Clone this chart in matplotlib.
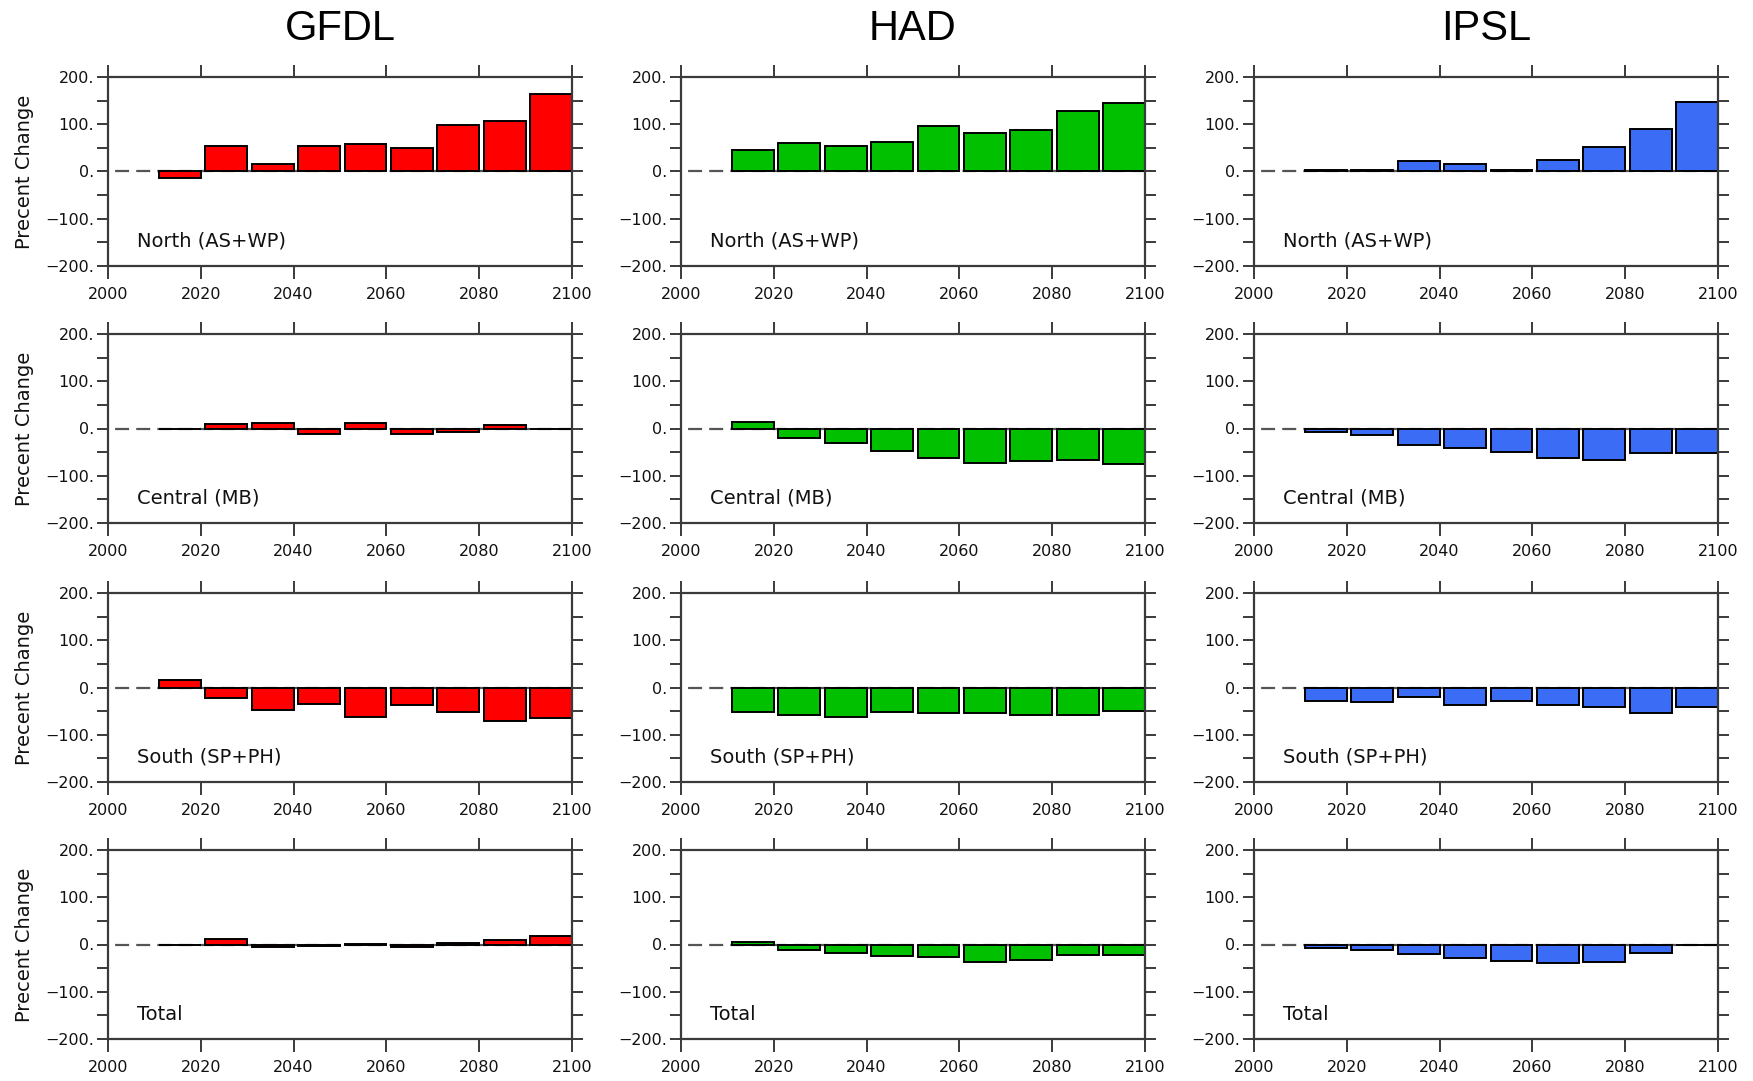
import numpy as np
import matplotlib
matplotlib.use("Agg")
import matplotlib.pyplot as plt
from matplotlib.ticker import MultipleLocator, FixedLocator

# ---------------- data ----------------
models = ["GFDL", "HAD", "IPSL"]
regions = ["North (AS+WP)", "Central (MB)", "South (SP+PH)", "Total"]
decades = [2010, 2020, 2030, 2040, 2050, 2060, 2070, 2080, 2090]

gfdl_north   = [-13, 53, 16, 53, 58, 49, 98, 107, 165]
gfdl_central = [-2, 9, 11, -11, 12, -11, -7, 8, -1]
gfdl_south   = [16, -22, -47, -34, -63, -38, -52, -70, -65]
gfdl_total   = [-1, 11, -5, -4, 1, -5, 4, 10, 19]

had_north    = [46, 61, 53, 62, 96, 81, 88, 128, 144]
had_central  = [13, -20, -30, -47, -62, -74, -68, -66, -76]
had_south    = [-52, -58, -62, -51, -55, -53, -58, -59, -49]
had_total    = [6, -11, -19, -25, -27, -36, -33, -23, -23]

ipsl_north   = [3, 3, 22, 15, 4, 25, 51, 90, 147]
ipsl_central = [-8, -13, -34, -41, -50, -63, -66, -51, -51]
ipsl_south   = [-29, -31, -20, -37, -29, -37, -41, -53, -42]
ipsl_total   = [-8, -11, -20, -28, -34, -39, -36, -17, -2]

model_data = {
    "GFDL": [gfdl_north, gfdl_central, gfdl_south, gfdl_total],
    "HAD":  [had_north, had_central, had_south, had_total],
    "IPSL": [ipsl_north, ipsl_central, ipsl_south, ipsl_total],
}
model_colors = {"GFDL": "#ff0000", "HAD": "#00c000", "IPSL": "#3a6cf5"}

ytick_vals = [-200, -100, 0, 100, 200]
ytick_labels = ["\u2212200.", "\u2212100.", "0.", "100.", "200."]
xtick_vals = [2000, 2020, 2040, 2060, 2080, 2100]

# ---------------- layout ----------------
W, H = 1753, 1081
fig = plt.figure(figsize=(W / 100, H / 100), dpi=100)
plt.rcParams["font.family"] = ["DejaVu Sans"]

col_left = [108, 681, 1254]
col_w = 464
row_top = [77, 334, 593, 850]
row_h = 189

frame_col = "#3a3a3a"

for ci, m in enumerate(models):
    for ri, reg in enumerate(regions):
        l = col_left[ci] / W
        b = 1 - (row_top[ri] + row_h) / H
        ax = fig.add_axes([l, b, col_w / W, row_h / H])
        vals = np.array(model_data[m][ri], dtype=float)
        x = np.array(decades) + 5.5
        ax.plot([2000, 2100], [0, 0], color="#555555", lw=1.6,
                linestyle=(6.3, (6.3, 3.2)), zorder=1)
        ax.bar(x, vals, width=9, color=model_colors[m], edgecolor="black",
               linewidth=1.4, zorder=2)
        ax.set_xlim(2000, 2100)
        ax.set_ylim(-200, 200)
        ax.yaxis.set_major_locator(FixedLocator(ytick_vals))
        ax.set_yticklabels(ytick_labels)
        ax.yaxis.set_minor_locator(MultipleLocator(50))
        ax.xaxis.set_major_locator(FixedLocator(xtick_vals))
        ax.set_xticklabels([str(v) for v in xtick_vals])
        ax.tick_params(axis="both", which="both", direction="out",
                       color=frame_col, width=1.4, labelsize=11.5,
                       labelcolor="#111111")
        ax.tick_params(axis="y", which="both", length=8, left=True,
                       right=True, pad=2)
        ax.tick_params(axis="x", which="major", length=9, top=True,
                       bottom=True, pad=6)
        for s in ax.spines.values():
            s.set_color(frame_col)
            s.set_linewidth(1.6)
        ax.text(2006.3, -148, reg, fontsize=14, color="#111111",
                va="center", ha="left")
        if ci == 0:
            ax.set_ylabel("Precent Change", fontsize=14, color="#111111",
                          labelpad=8)
        if ri == 0:
            ax.set_title(m, fontsize=30, pad=27, family=["Liberation Sans"])

fig.savefig("out.png", dpi=100)
